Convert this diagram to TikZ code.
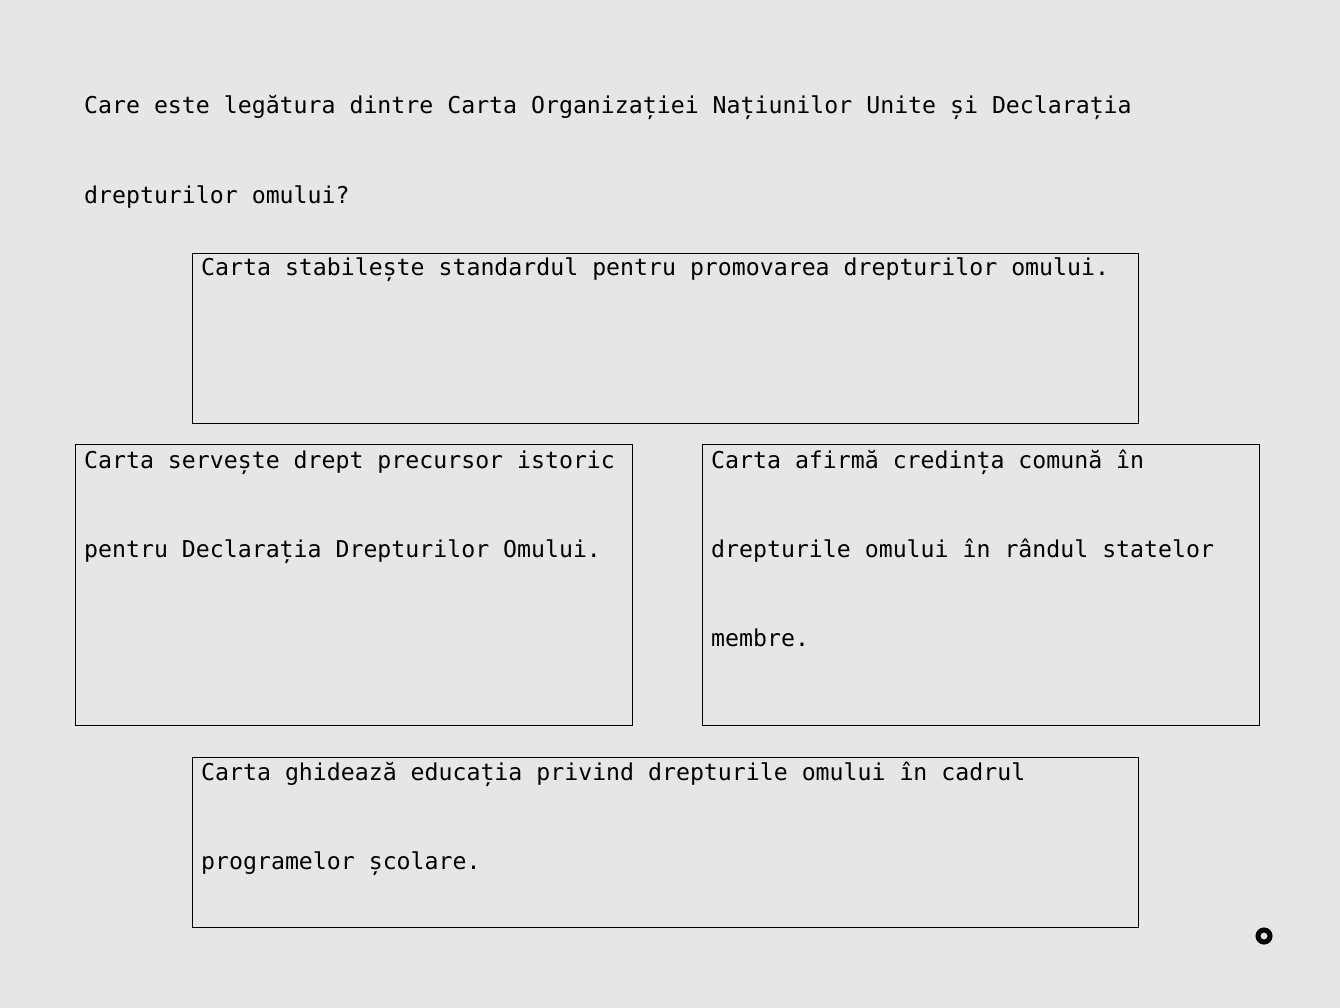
\documentclass[tikz,border=0pt]{standalone}
\usepackage{fontspec}
\newfontfamily\monofont{DejaVu Sans Mono}
\definecolor{bg}{HTML}{E6E6E6}
\tikzset{
  txt/.style={anchor=base west,inner sep=0pt,font=\monofont\fontsize{23.2}{28}\selectfont},
  box/.style={draw,line width=1pt,anchor=north west,inner sep=0pt,minimum width=#1},
}
\begin{document}
\begin{tikzpicture}[x=1pt,y=-1pt]
\fill[bg](0,0) rectangle (1340,1008);
\useasboundingbox(0,0) rectangle (1340,1008);
\node[txt](q1) at (84,114){Care este legătura dintre Carta Organizației Națiunilor Unite și Declarația};
\node[txt](q2) at (84,204){drepturilor omului?};
\node[box=946pt,minimum height=170pt](b1) at (192,253){};
\node[txt](b1a) at (201,276){Carta stabilește standardul pentru promovarea drepturilor omului.};
\node[box=557pt,minimum height=281pt](b2) at (75,444){};
\node[txt](b2a) at (84,468){Carta servește drept precursor istoric};
\node[txt](b2b) at (84,557){pentru Declarația Drepturilor Omului.};
\node[box=557pt,minimum height=281pt](b3) at (702,444){};
\node[txt](b3a) at (711,468){Carta afirmă credința comună în};
\node[txt](b3b) at (711,557){drepturile omului în rândul statelor};
\node[txt](b3c) at (711,646){membre.};
\node[box=946pt,minimum height=170pt](b4) at (192,757){};
\node[txt](b4a) at (201,780){Carta ghidează educația privind drepturile omului în cadrul};
\node[txt](b4b) at (201,869){programelor școlare.};
\node[circle,draw,line width=5pt,minimum size=12pt,inner sep=0pt](dot) at (1264,936){};
\end{tikzpicture}
\end{document}
